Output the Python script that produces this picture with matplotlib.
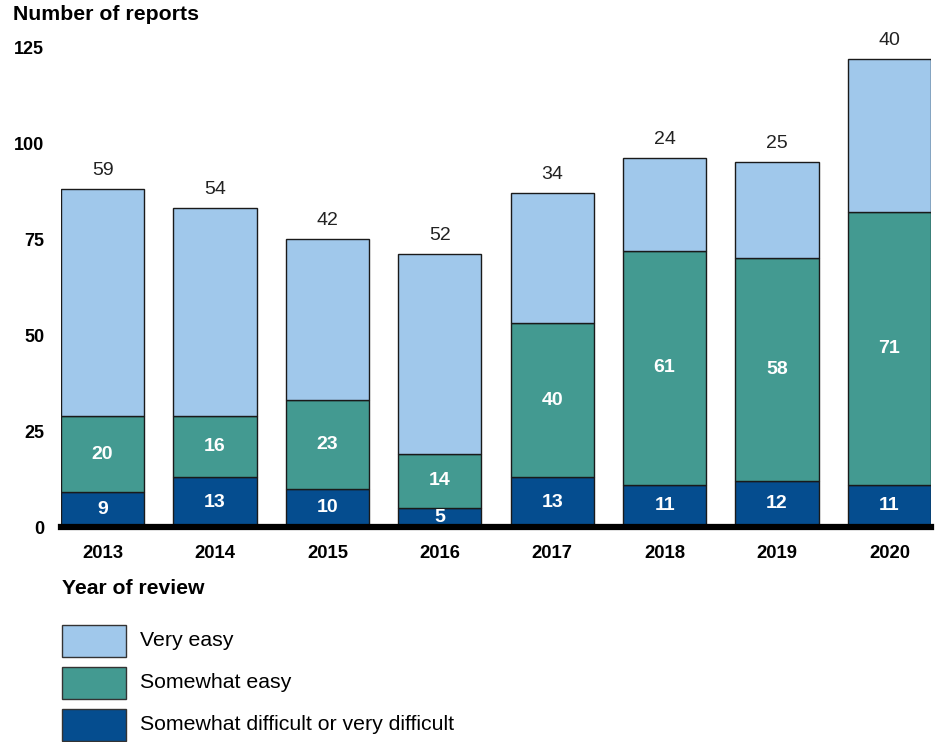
import matplotlib
matplotlib.use("Agg")
import matplotlib.pyplot as plt
from matplotlib.patches import Rectangle
import numpy as np

plt.rcParams['font.family'] = ['Liberation Sans', 'DejaVu Sans']

years = ["2013", "2014", "2015", "2016", "2017", "2018", "2019", "2020"]
difficult = [9, 13, 10, 5, 13, 11, 12, 11]
somewhat_easy = [20, 16, 23, 14, 40, 61, 58, 71]
very_easy = [59, 54, 42, 52, 34, 24, 25, 40]
y_ticks = [0, 25, 50, 75, 100, 125]

series_names = ["Very easy", "Somewhat easy", "Somewhat difficult or very difficult"]
c_very = "#A0C8EB"
c_some = "#439A91"
c_diff = "#054D8F"
edge = "#1a1a1a"

W, H = 935, 742
fig = plt.figure(figsize=(W / 100, H / 100), dpi=100)
ax = fig.add_axes([61 / W, (H - 527) / H, 870 / W, 480 / H])

x = np.arange(len(years))
bw = 0.74
d = np.array(difficult)
s = np.array(somewhat_easy)
v = np.array(very_easy)

ax.bar(x, d, bw, color=c_diff, edgecolor=edge, linewidth=1.0, zorder=2)
ax.bar(x, s, bw, bottom=d, color=c_some, edgecolor=edge, linewidth=1.0, zorder=2)
ax.bar(x, v, bw, bottom=d + s, color=c_very, edgecolor=edge, linewidth=1.0, zorder=2)

for i in range(len(years)):
    ax.text(x[i], d[i] / 2, str(d[i]), ha="center", va="center", color="white",
            fontsize=14, fontweight="bold", zorder=3)
    ax.text(x[i], d[i] + s[i] / 2, str(s[i]), ha="center", va="center", color="white",
            fontsize=14, fontweight="bold", zorder=3)
    ax.text(x[i], d[i] + s[i] + v[i] + 2.6, str(v[i]), ha="center", va="bottom",
            color="#222222", fontsize=14, zorder=3)

ax.set_xlim(-0.37, len(years) - 1 + 0.37)
ax.set_ylim(0, 125)
ax.set_xticks(x)
ax.set_xticklabels(years, fontsize=13.3, fontweight="bold")
ax.set_yticks(y_ticks)
ax.set_yticklabels([str(t) for t in y_ticks], fontsize=13, fontweight="bold")
ax.tick_params(axis="both", length=0)
ax.tick_params(axis="x", pad=13)
ax.tick_params(axis="y", pad=12)
for sp in ["top", "right", "left"]:
    ax.spines[sp].set_visible(False)
ax.spines["bottom"].set_linewidth(4.5)
ax.spines["bottom"].set_color("black")
ax.spines["bottom"].set_zorder(4)

fig.text(13 / W, 1 - 15 / H, "Number of reports", ha="left", va="center",
         fontsize=15.3, fontweight="bold")
fig.text(62 / W, 1 - 588 / H, "Year of review", ha="left", va="center",
         fontsize=15.2, fontweight="bold")

legend_colors = [c_very, c_some, c_diff]
legend_tops = [625, 667, 709]
for name, col, top in zip(series_names, legend_colors, legend_tops):
    fig.patches.append(Rectangle((62 / W, 1 - (top + 32) / H), 64 / W, 32 / H,
                                 transform=fig.transFigure, facecolor=col,
                                 edgecolor="#333333", linewidth=1.0))
    fig.text(140 / W, 1 - (top + 16) / H, name, ha="left", va="center", fontsize=15.3)

fig.savefig("out.png", dpi=100)
